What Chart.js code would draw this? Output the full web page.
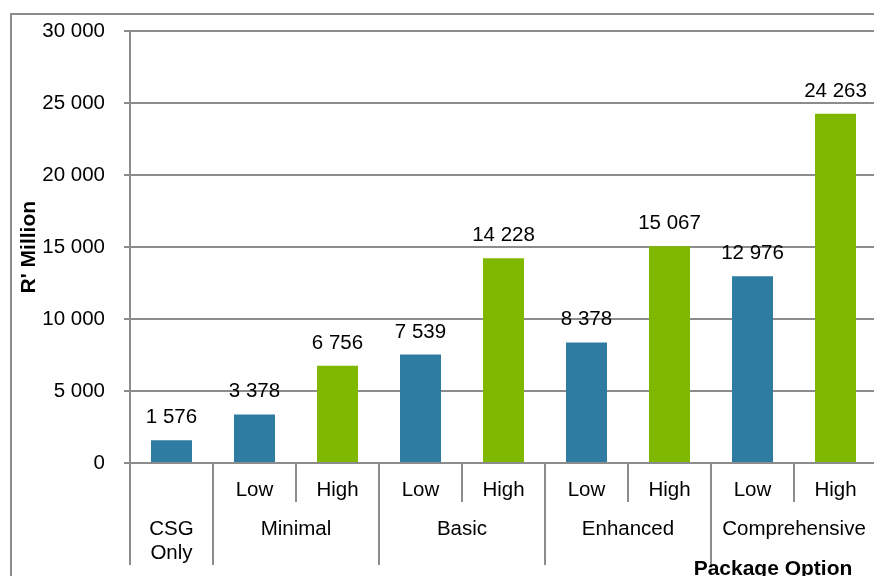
<!DOCTYPE html>
<html>
<head>
<meta charset="utf-8">
<title>Package option costs</title>
<script src="https://cdn.jsdelivr.net/npm/chart.js@4.4.1/dist/chart.umd.min.js"></script>
<style>
  html, body { margin: 0; padding: 0; background: #ffffff; overflow: hidden; }
  #wrap { position: relative; width: 880px; height: 576px; }
</style>
</head>
<body>
<div id="wrap"><canvas id="chart" width="880" height="576"></canvas></div>
<script>
// Cost of each package option, R' million
const packages = ['CSG Only', 'Minimal', 'Minimal', 'Basic', 'Basic', 'Enhanced', 'Enhanced', 'Comprehensive', 'Comprehensive'];
const levels   = ['', 'Low', 'High', 'Low', 'High', 'Low', 'High', 'Low', 'High'];
const costs    = [1576, 3378, 6756, 7539, 14228, 8378, 15067, 12976, 24263];
const yMax = 30000;
const yStep = 5000;

const BLUE = '#2E7CA1';
const GREEN = '#80B800';
const LINE = '#8C8C8C';
const FONT = "'Liberation Sans', Arial, sans-serif";

const fmt = v => String(Math.round(v)).replace(/\B(?=(\d{3})+(?!\d))/g, ' ');

const barColours = levels.map(l => l === 'High' ? GREEN : BLUE);

const decorations = {
  id: 'decorations',
  beforeDraw(chart) {
    const { ctx, width, height } = chart;
    ctx.save();
    ctx.strokeStyle = LINE;
    ctx.lineWidth = 2;
    ctx.beginPath();
    ctx.moveTo(11, height + 5);
    ctx.lineTo(11, 14);
    ctx.lineTo(width + 5, 14);
    ctx.stroke();
    ctx.restore();
  },
  afterDraw(chart) {
    const { ctx, chartArea } = chart;
    const x = chart.scales.x;
    const meta = chart.getDatasetMeta(0);
    const step = x.getPixelForValue(1) - x.getPixelForValue(0);
    const base = chartArea.bottom;
    ctx.save();

    // value labels above the bars
    ctx.fillStyle = '#000000';
    ctx.font = '20.5px ' + FONT;
    ctx.textAlign = 'center';
    ctx.textBaseline = 'alphabetic';
    meta.data.forEach((bar, i) => {
      ctx.fillText(fmt(costs[i]), bar.x, bar.y - 17);
    });

    // separators between categories below the axis
    ctx.strokeStyle = LINE;
    ctx.lineWidth = 2;
    for (let i = 0; i <= packages.length; i++) {
      const edge = x.getPixelForValue(i) - step / 2;
      const newGroup = i === 0 || i === packages.length || packages[i] !== packages[i - 1];
      ctx.beginPath();
      ctx.moveTo(edge, base);
      ctx.lineTo(edge, newGroup ? base + 102 : base + 39);
      ctx.stroke();
    }

    // level row
    ctx.textBaseline = 'middle';
    levels.forEach((lvl, i) => {
      if (lvl) ctx.fillText(lvl, x.getPixelForValue(i), base + 27);
    });

    // package row
    let start = 0;
    for (let i = 1; i <= packages.length; i++) {
      if (i === packages.length || packages[i] !== packages[start]) {
        const cx = (x.getPixelForValue(start) + x.getPixelForValue(i - 1)) / 2;
        const name = packages[start];
        if (levels[start] === '') {
          name.split(' ').forEach((w, k) => ctx.fillText(w, cx, base + 66 + k * 24));
        } else {
          ctx.fillText(name, cx, base + 66);
        }
        start = i;
      }
    }

    // axis title
    ctx.font = 'bold 21px ' + FONT;
    ctx.textBaseline = 'alphabetic';
    ctx.fillText('Package Option', chartArea.right - 104, base + 112);
    ctx.restore();
  }
};

new Chart(document.getElementById('chart'), {
  type: 'bar',
  data: {
    labels: packages.map((p, i) => levels[i] ? p + ' ' + levels[i] : p),
    datasets: [{
      data: costs,
      backgroundColor: barColours,
      borderWidth: 0,
      categoryPercentage: 1,
      barPercentage: 0.494
    }]
  },
  options: {
    responsive: false,
    animation: false,
    devicePixelRatio: 1,
    layout: { autoPadding: false, padding: { left: 0, top: 28, right: 3, bottom: 113 } },
    plugins: { legend: { display: false }, tooltip: { enabled: false } },
    scales: {
      x: { display: false },
      y: {
        min: 0,
        max: yMax,
        ticks: {
          stepSize: yStep,
          padding: 19,
          color: '#000000',
          font: { family: FONT, size: 20.5 },
          callback: v => fmt(v)
        },
        grid: { color: LINE, lineWidth: 2, tickLength: 6 },
        border: { display: true, color: LINE, width: 2 },
        title: {
          display: true,
          text: "R' Million",
          color: '#000000',
          font: { family: FONT, size: 21, weight: 'bold' },
          padding: { top: 17, bottom: 0 }
        },
        afterFit(scale) { scale.width = 130; }
      }
    }
  },
  plugins: [decorations]
});
</script>
</body>
</html>
